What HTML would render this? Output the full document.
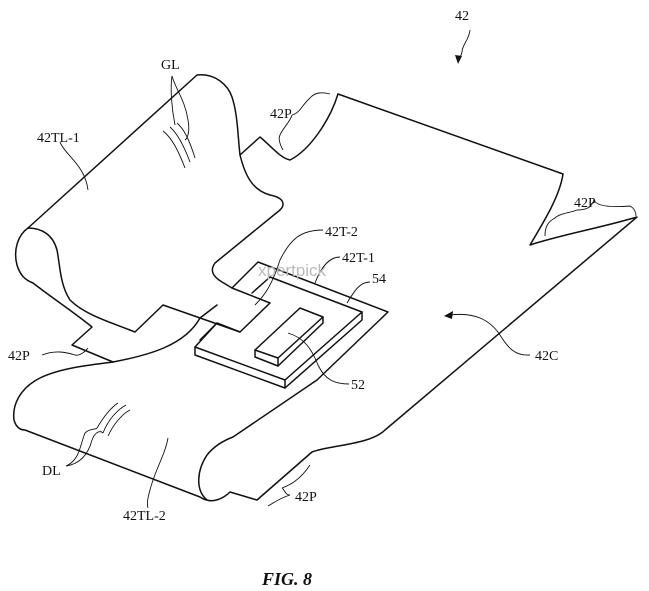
<!DOCTYPE html>
<html><head><meta charset="utf-8"><style>
html,body{margin:0;padding:0;background:#fff;}
svg{display:block;}
text{font-family:"Liberation Serif",serif;font-size:14px;fill:#111;}
</style></head><body>
<svg width="649" height="591" viewBox="0 0 649 591" xmlns="http://www.w3.org/2000/svg">
<g fill="none" stroke="#111" stroke-width="1.5" stroke-linejoin="round" stroke-linecap="round">
<path d="M338,94 L563,174 C560,195 545,220 530,245 C560,235 600,228 637,217 L385,430 C370,445 330,445 312,452 L257,500 L230,492 C222,500 212,502 207,500 C195,490 197,470 207,455 C215,445 225,440 233,437 L317,380 L388,312 L258,262 L232,288"/>
<path d="M28,228 L197,75 C215,73 228,85 232,97 C238,115 238,140 240,155 L260,137 C270,145 280,158 290,160 C310,150 330,120 338,94"/>
<path d="M240,155 C245,175 252,190 270,195 C285,198 285,205 280,210 L215,263 C210,270 212,276 222,282 L232,288 L270,303 L240,332 L217,323 L200,340"/>
<path d="M240,332 L163,305 L135,332 C110,322 85,315 70,300 C60,285 60,265 57,250 C53,235 42,228 28,228 C18,235 13,250 17,265 C20,275 25,280 33,283 C55,300 75,313 92,327 L72,345 L113,362"/>
<path d="M113,362 C150,355 185,345 200,318 L217,305"/>
<path d="M113,362 C90,365 60,368 40,378 C20,388 12,405 14,420 C16,427 20,430 25,430 L200,497 C203,499 205,500 207,500"/>
<path d="M270,277 L362,312 L285,380 L195,347 L217,323"/>
<path d="M270,277 L252,293"/>
<path d="M195,347 L195,355 L285,388 L362,320 L362,312"/>
<path d="M285,380 L285,388"/>
<path d="M255,350 L300,308 L323,317 L278,358 Z"/>
<path d="M255,350 L255,357 L278,366 L323,323 L323,317"/>
<path d="M278,358 L278,366"/>
</g>
<g fill="none" stroke="#111" stroke-width="0.9">
<path d="M163,131 C172,138 178,150 185,168"/>
<path d="M170,127 C178,134 184,146 190,162"/>
<path d="M177,123 C185,130 190,142 195,158"/>
<path d="M172,76 C170,90 172,110 175,125 M172,76 C176,90 185,100 188,120 C190,130 188,138 185,140"/>
<path d="M97,428 C103,418 110,408 118,403"/>
<path d="M103,433 C108,420 117,410 126,405"/>
<path d="M108,436 C113,425 122,414 130,410"/>
<path d="M66,466 C80,460 80,445 85,433 C90,428 95,430 97,428 M66,466 C80,464 88,455 92,440 C95,432 100,430 103,433"/>
<path d="M60,142 C65,155 85,165 88,190"/>
<path d="M292,115 C300,113 302,105 310,98 C315,92 322,92 330,94 M292,115 C290,122 283,128 280,135 C277,140 283,150 283,150"/>
<path d="M577,210 C590,210 592,205 594,200 C596,205 605,208 630,206 C634,208 636,212 636,216 M577,210 C570,213 560,213 555,218 C547,222 545,228 545,236"/>
<path d="M323,230 C300,230 290,240 280,260 C272,285 265,295 255,305"/>
<path d="M340,257 C330,257 322,265 315,283"/>
<path d="M370,282 C360,282 355,290 347,303"/>
<path d="M349,384 C335,384 325,380 318,365 C312,350 305,338 288,333"/>
<path d="M530,355 C515,356 508,348 500,335 C490,320 475,312 450,315"/>
<path d="M42,355 C55,350 65,352 75,355 C80,356 85,352 88,348"/>
<path d="M168,438 C165,455 155,470 150,490 C147,500 147,505 148,508"/>
<path d="M290,495 C285,495 285,490 282,488 M290,495 C280,498 275,502 268,506 M282,488 C290,485 300,480 310,465"/>
<path d="M470,30 C469,40 462,45 462,52 C461,56 460,58 459,60"/>
</g>
<path d="M458,64 L455,55 L462,56 Z" fill="#111"/>
<path d="M444,316 L453,311 L452,319 Z" fill="#111"/>
<text x="455" y="20">42</text>
<text x="161" y="69">GL</text>
<text x="37" y="142">42TL-1</text>
<text x="270" y="118">42P</text>
<text x="574" y="207">42P</text>
<text x="325" y="236">42T-2</text>
<text x="342" y="262">42T-1</text>
<text x="372" y="283">54</text>
<text x="535" y="360">42C</text>
<text x="351" y="389">52</text>
<text x="8" y="360">42P</text>
<text x="42" y="475">DL</text>
<text x="123" y="520">42TL-2</text>
<text x="295" y="501">42P</text>
<text x="258" y="276" style="font-family:'Liberation Sans',sans-serif;font-size:17px;fill:#bbb;">xpertpick</text>
<text x="262" y="585" style="font-size:18px;font-weight:bold;font-style:italic;">FIG. 8</text>
</svg>
</body></html>
